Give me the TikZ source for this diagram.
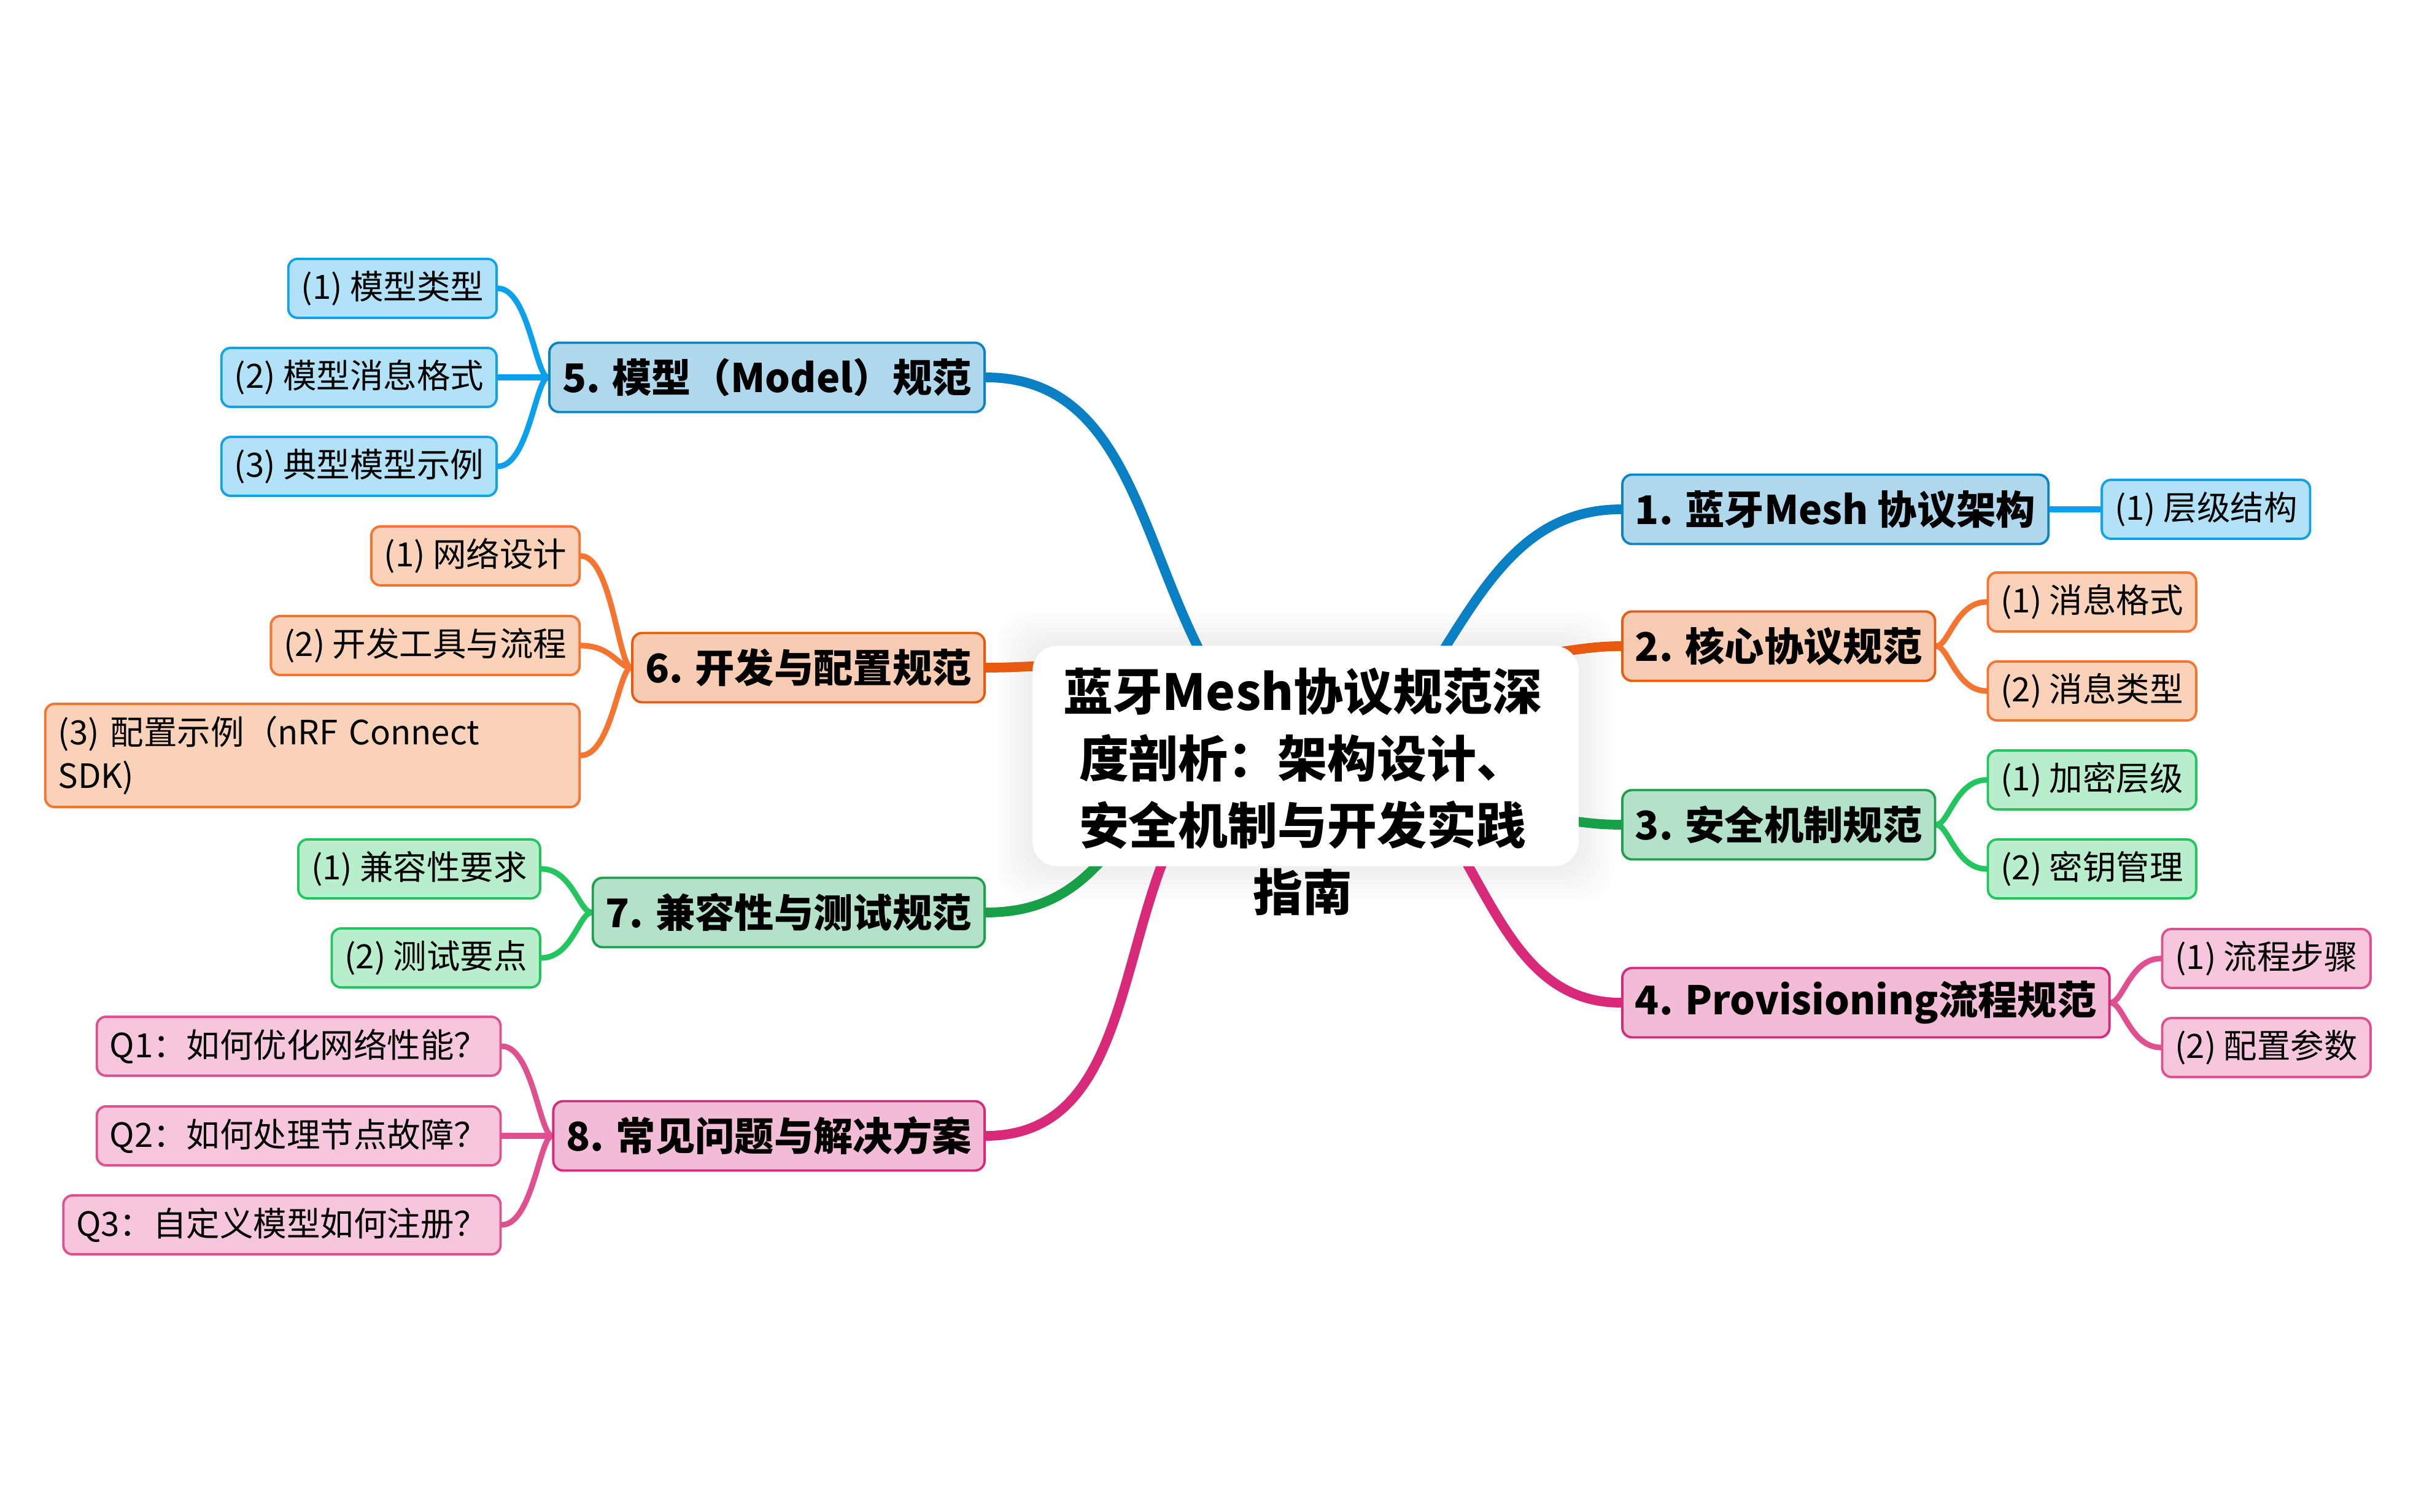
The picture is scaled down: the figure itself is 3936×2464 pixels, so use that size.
\documentclass[tikz,border=0pt]{standalone}
\usepackage{fontspec}
\setmainfont{Noto Sans CJK SC}
\usetikzlibrary{positioning,backgrounds}
% branch colours
\definecolor{bluefill}{HTML}{B0D8EC}
\definecolor{blueedge}{HTML}{0A84C6}
\definecolor{bluetrunk}{HTML}{0A80C4}
\definecolor{blueleaffill}{HTML}{B2E2F8}
\definecolor{blueleafedge}{HTML}{12A2EA}
\definecolor{bluetwig}{HTML}{0AA0EC}
\definecolor{orangefill}{HTML}{F8CCB2}
\definecolor{orangeedge}{HTML}{E85C10}
\definecolor{orangetrunk}{HTML}{E8580E}
\definecolor{orangeleaffill}{HTML}{FAD2BA}
\definecolor{orangeleafedge}{HTML}{F47430}
\definecolor{orangetwig}{HTML}{F47430}
\definecolor{greenfill}{HTML}{B4E2C8}
\definecolor{greenedge}{HTML}{1EA04E}
\definecolor{greentrunk}{HTML}{18A048}
\definecolor{greenleaffill}{HTML}{B8EECC}
\definecolor{greenleafedge}{HTML}{22C55E}
\definecolor{greentwig}{HTML}{22C55E}
\definecolor{pinkfill}{HTML}{F2BCD6}
\definecolor{pinkedge}{HTML}{D82A7A}
\definecolor{pinktrunk}{HTML}{D82A78}
\definecolor{pinkleaffill}{HTML}{F5C6DC}
\definecolor{pinkleafedge}{HTML}{E0508F}
\definecolor{pinktwig}{HTML}{E0508F}

\tikzset{
  topic/.style={rectangle, rounded corners=0.16cm, line width=1.1pt,
    draw=#1edge, fill=#1fill, text=black,
    font=\fontsize{18.3}{22}\selectfont\bfseries,
    inner xsep=0.21cm, inner ysep=0pt, minimum height=1.13cm},
  leaf/.style={rectangle, rounded corners=0.15cm, line width=1.1pt,
    draw=#1leafedge, fill=#1leaffill, text=black,
    font=\fontsize{15.5}{20}\selectfont,
    inner xsep=0.21cm, inner ysep=0pt, minimum height=0.96cm},
  trunk/.style={draw=#1trunk, line width=4.5pt, line cap=round},
  twig/.style={draw=#1twig, line width=2.6pt, line cap=round},
  rootbox/.style={rectangle, rounded corners=0.4cm, fill=white,
    minimum width=8.89cm, minimum height=3.59cm, inner sep=0pt},
  roottitle/.style={align=center, text=black,
    font=\fontsize{23}{31}\selectfont\bfseries}
}

\begin{document}
\begin{tikzpicture}[x=0.01cm, y=-0.01cm]
  \useasboundingbox (0,0) rectangle (3936,2464);

  % centre
  \node[rootbox] (root) at (2127,1232) {};
  \node[roottitle] (title) at (2122,1290) {蓝牙Mesh协议规范深\\度剖析：架构设计、\\安全机制与开发实践\\指南};

  % main topics
  \node[topic=blue, anchor=west] (t1) at (2641,830) {1. 蓝牙Mesh 协议架构};
  \node[topic=orange, anchor=west] (t2) at (2641,1053) {2. 核心协议规范};
  \node[topic=green, anchor=west] (t3) at (2641,1344) {3. 安全机制规范};
  \node[topic=pink, anchor=west] (t4) at (2641,1634) {4. Provisioning流程规范};
  \node[topic=blue, anchor=east] (t5) at (1606,615) {5. 模型（Model）规范};
  \node[topic=orange, anchor=east] (t6) at (1606,1088) {6. 开发与配置规范};
  \node[topic=green, anchor=east] (t7) at (1606,1487) {7. 兼容性与测试规范};
  \node[topic=pink, anchor=east] (t8) at (1606,1851) {8. 常见问题与解决方案};

  % sub topics
  \node[leaf=blue, right=0.83cm of t1] (t1a) {(1) 层级结构};
  \node[leaf=orange, right=0.82cm of t2, yshift=0.72cm] (t2a) {(1) 消息格式};
  \node[leaf=orange, right=0.82cm of t2, yshift=-0.73cm] (t2b) {(2) 消息类型};
  \node[leaf=green, right=0.82cm of t3, yshift=0.73cm] (t3a) {(1) 加密层级};
  \node[leaf=green, right=0.82cm of t3, yshift=-0.72cm] (t3b) {(2) 密钥管理};
  \node[leaf=pink, right=0.82cm of t4, yshift=0.72cm] (t4a) {(1) 流程步骤};
  \node[leaf=pink, right=0.82cm of t4, yshift=-0.73cm] (t4b) {(2) 配置参数};

  \node[leaf=blue, left=0.82cm of t5, yshift=1.45cm] (t5a) {(1) 模型类型};
  \node[leaf=blue, left=0.82cm of t5] (t5b) {(2) 模型消息格式};
  \node[leaf=blue, left=0.82cm of t5, yshift=-1.45cm] (t5c) {(3) 典型模型示例};
  \node[leaf=orange, left=0.82cm of t6, yshift=1.82cm] (t6a) {(1) 网络设计};
  \node[leaf=orange, left=0.82cm of t6, yshift=0.36cm] (t6b) {(2) 开发工具与流程};
  \node[leaf=orange, left=0.82cm of t6, yshift=-1.43cm, text width=8.28cm,
    align=left, minimum height=1.68cm] (t6c) {(3) 配置示例（nRF Connect\\SDK)};
  \node[leaf=green, left=0.82cm of t7, yshift=0.71cm] (t7a) {(1) 兼容性要求};
  \node[leaf=green, left=0.82cm of t7, yshift=-0.74cm] (t7b) {(2) 测试要点};
  \node[leaf=pink, left=0.82cm of t8, yshift=1.46cm] (t8a) {Q1：如何优化网络性能？};
  \node[leaf=pink, left=0.82cm of t8] (t8b) {Q2：如何处理节点故障？};
  \node[leaf=pink, left=0.82cm of t8, yshift=-1.45cm] (t8c) {Q3：自定义模型如何注册？};

  % trunk ends inside the centre box
  \coordinate (r1) at (2345,1070);
  \coordinate (r2) at (2480,1068);
  \coordinate (r3) at (2500,1332);
  \coordinate (r4) at (2380,1390);
  \coordinate (r5) at (1962,1075);
  \coordinate (r6) at (1750,1084);
  \coordinate (r7) at (1805,1390);
  \coordinate (r8) at (1900,1390);

  \begin{scope}[on background layer]
    \fill[white] (0,0) rectangle (3936,2464);
    % soft halo round the centre box
    \foreach \g in {2,4,...,16}
      \fill[black, opacity=0.008, rounded corners=0.5cm]
        ([xshift=-\g pt, yshift=-\g pt]root.south west)
        rectangle ([xshift=\g pt, yshift=\g pt]root.north east);

    \draw[trunk=blue] (r1) to[out=58, in=180] (t1.west);
    \draw[trunk=orange] (r2) to[out=2, in=180] (t2.west);
    \draw[trunk=green] (r3) to[out=-3, in=180] (t3.west);
    \draw[trunk=pink] (r4) to[out=-60, in=180] (t4.west);
    \draw[trunk=blue] (r5) to[out=118, in=0] (t5.east);
    \draw[trunk=orange] (r6) to[out=180, in=0] (t6.east);
    \draw[trunk=green] (r7) to[out=-130, in=0] (t7.east);
    \draw[trunk=pink] (r8) to[out=-112, in=0] (t8.east);

    % right hand twigs
    \draw[twig=blue] (t1.east) -- (t1a.west);
    \foreach \p/\c in {t2/orange, t3/green, t4/pink} {
      \draw[twig=\c] (\p.east) .. controls +(20,0) and +(-50,0) .. (\p a.west);
      \draw[twig=\c] (\p.east) .. controls +(20,0) and +(-50,0) .. (\p b.west);
    }
    % left hand twigs
    \foreach \p/\c in {t5/blue, t6/orange, t8/pink} {
      \draw[twig=\c] (\p.west) .. controls +(-20,0) and +(50,0) .. (\p a.east);
      \draw[twig=\c] (\p.west) .. controls +(-20,0) and +(50,0) .. (\p b.east);
      \draw[twig=\c] (\p.west) .. controls +(-20,0) and +(50,0) .. (\p c.east);
    }
    \draw[twig=green] (t7.west) .. controls +(-20,0) and +(50,0) .. (t7a.east);
    \draw[twig=green] (t7.west) .. controls +(-20,0) and +(50,0) .. (t7b.east);
  \end{scope}
\end{tikzpicture}
\end{document}
